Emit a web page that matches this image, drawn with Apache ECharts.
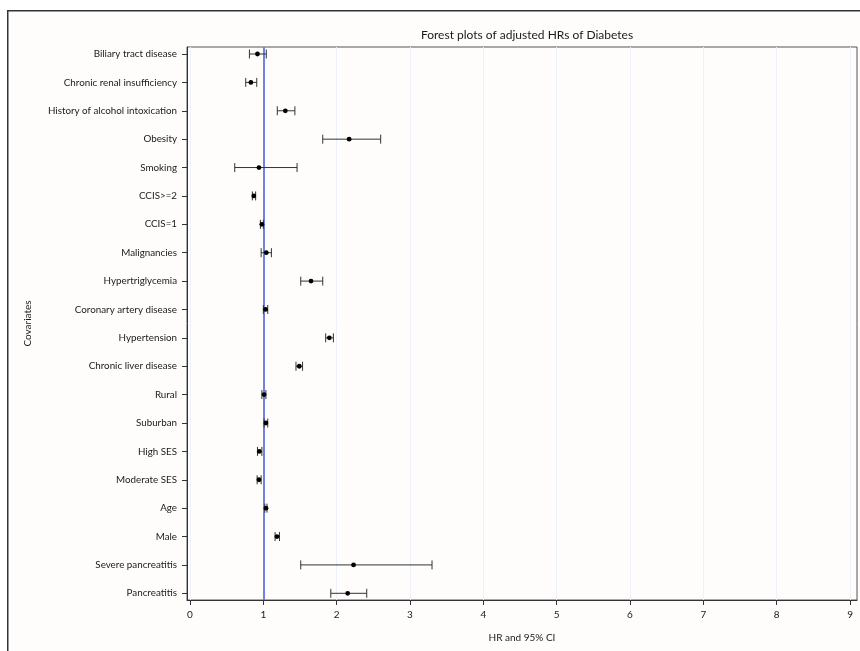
<!DOCTYPE html>
<html>
<head>
<meta charset="utf-8">
<script src="https://cdn.jsdelivr.net/npm/echarts@6/dist/echarts.min.js"></script>
<style>
html,body{margin:0;padding:0;background:#fff;}
#chart{width:860px;height:651px;}
</style>
</head>
<body>
<div id="chart"></div>
<script>
const categories = [
  'Biliary tract disease','Chronic renal insufficiency','History of alcohol intoxication','Obesity',
  'Smoking','CCIS>=2','CCIS=1','Malignancies','Hypertriglycemia','Coronary artery disease',
  'Hypertension','Chronic liver disease','Rural','Suburban','High SES','Moderate SES','Age',
  'Male','Severe pancreatitis','Pancreatitis'
];
const hr    = [0.92, 0.83, 1.30, 2.17, 0.94, 0.87, 0.98, 1.04, 1.65, 1.03, 1.90, 1.49, 1.01, 1.035, 0.945, 0.94, 1.036, 1.185, 2.23, 2.15];
const lower = [0.81, 0.76, 1.19, 1.81, 0.61, 0.85, 0.96, 0.97, 1.51, 1.00, 1.85, 1.445, 0.98, 1.01, 0.92, 0.915, 1.02, 1.16, 1.51, 1.92];
const upper = [1.04, 0.91, 1.43, 2.60, 1.46, 0.895, 1.00, 1.11, 1.81, 1.06, 1.955, 1.535, 1.035, 1.06, 0.98, 0.97, 1.05, 1.22, 3.30, 2.41];
const xTicks = [0,1,2,3,4,5,6,7,8,9];
const refValue = 1;

const rows = categories.map((c, i) => [i, lower[i], hr[i], upper[i]]);
const yIdx = categories.map((c, i) => i);
const FONT = 'Lato';

const chart = echarts.init(document.getElementById('chart'));
chart.setOption({
  backgroundColor: '#ffffff',
  animation: false,
  graphic: [{
    type: 'rect', left: 7, top: 10, z: -100,
    shape: {width: 900, height: 700},
    style: {fill: '#fffdfc', stroke: '#333', lineWidth: 1.5}
  }],
  title: {
    text: 'Forest plots of adjusted HRs of Diabetes',
    left: 522, top: 24, textAlign: 'center',
    textStyle: {fontFamily: FONT, fontSize: 12, fontWeight: 'normal', color: '#1a1a1a'}
  },
  grid: {
    left: 187, right: 3, top: 47, bottom: 51,
    show: true, borderColor: '#555', borderWidth: 1, backgroundColor: 'transparent'
  },
  xAxis: {
    type: 'value', min: -0.041, max: 9.095,
    name: 'HR and 95% CI', nameLocation: 'middle', nameGap: 33,
    nameTextStyle: {fontFamily: FONT, fontSize: 10, color: '#1a1a1a'},
    axisLine: {show: true, onZero: false, lineStyle: {color: '#333', width: 1}},
    axisTick: {show: true, length: 5, customValues: xTicks, lineStyle: {color: '#333'}},
    axisLabel: {customValues: xTicks, fontFamily: FONT, fontSize: 10, color: '#1a1a1a', margin: 10},
    splitLine: {show: true, lineStyle: {color: '#edf1fa', width: 1}}
  },
  yAxis: {
    type: 'value', inverse: true, min: -0.247, max: 19.236,
    name: 'Covariates', nameLocation: 'middle', nameGap: 154,
    nameTextStyle: {fontFamily: FONT, fontSize: 10, color: '#1a1a1a'},
    axisLine: {show: true, onZero: false, lineStyle: {color: '#333', width: 1}},
    axisTick: {show: true, length: 5, customValues: yIdx, lineStyle: {color: '#333'}},
    axisLabel: {
      customValues: yIdx, fontFamily: FONT, fontSize: 9.8, color: '#1a1a1a', margin: 10,
      formatter: v => categories[Math.round(v)]
    },
    splitLine: {show: false}
  },
  series: [{
    type: 'custom',
    data: rows,
    encode: {x: [1, 2, 3], y: 0},
    renderItem: function (params, api) {
      const y = api.value(0);
      const pLo = api.coord([api.value(1), y]);
      const pEst = api.coord([api.value(2), y]);
      const pHi = api.coord([api.value(3), y]);
      const h = 4.5;
      const st = {stroke: '#333', lineWidth: 1};
      return {
        type: 'group',
        children: [
          {type: 'line', shape: {x1: pLo[0], y1: pLo[1], x2: pHi[0], y2: pHi[1]}, style: st},
          {type: 'line', shape: {x1: pLo[0], y1: pLo[1] - h, x2: pLo[0], y2: pLo[1] + h}, style: st},
          {type: 'line', shape: {x1: pHi[0], y1: pHi[1] - h, x2: pHi[0], y2: pHi[1] + h}, style: st},
          {type: 'circle', shape: {cx: pEst[0], cy: pEst[1], r: 2.4}, style: {fill: '#000'}}
        ]
      };
    },
    markLine: {
      silent: true, symbol: 'none', z: 1,
      label: {show: false},
      lineStyle: {color: '#7282e0', width: 2, type: 'solid'},
      data: [{xAxis: refValue}]
    },
    z: 3
  }]
});
</script>
</body>
</html>
